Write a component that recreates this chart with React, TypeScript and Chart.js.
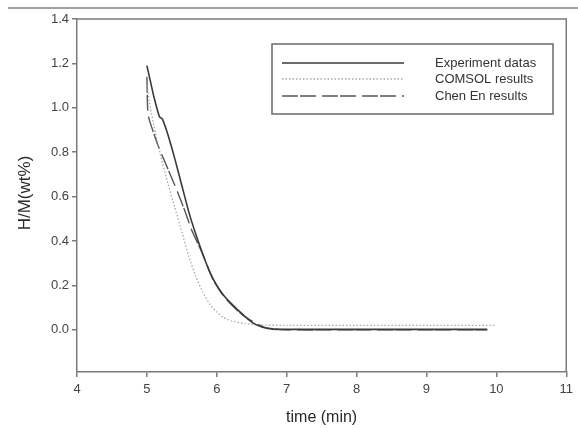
import React, { useEffect, useRef } from "react";
import { Chart, registerables } from "chart.js";

Chart.register(...registerables);

// ---- Data ----
const expTime = [5.0, 5.05, 5.1, 5.18, 5.22, 5.3, 5.4, 5.5, 5.6, 5.7, 5.8, 5.9, 6.0, 6.1, 6.2, 6.3, 6.4, 6.5, 6.6, 6.7, 6.8, 7.0, 8.0, 9.0, 9.87];
const expValue = [1.19, 1.12, 1.05, 0.96, 0.95, 0.88, 0.77, 0.65, 0.53, 0.43, 0.34, 0.26, 0.2, 0.155, 0.12, 0.09, 0.06, 0.035, 0.018, 0.008, 0.003, 0.002, 0.002, 0.002, 0.002];

const comsolTime = [5.0, 5.05, 5.1, 5.2, 5.3, 5.4, 5.5, 5.6, 5.7, 5.8, 5.9, 6.0, 6.1, 6.2, 6.4, 6.6, 7.0, 8.0, 9.0, 10.0];
const comsolValue = [1.1, 1.0, 0.92, 0.78, 0.66, 0.55, 0.44, 0.33, 0.24, 0.17, 0.115, 0.08, 0.055, 0.04, 0.028, 0.022, 0.02, 0.02, 0.02, 0.02];

const chenTime = [5.0, 5.01, 5.03, 5.16, 5.3, 5.44, 5.55, 5.64, 5.8, 5.94, 6.1, 6.3, 6.5, 6.7, 7.0, 8.0, 9.0, 9.87];
const chenValue = [1.14, 1.0, 0.95, 0.83, 0.725, 0.62, 0.53, 0.45, 0.34, 0.23, 0.15, 0.085, 0.04, 0.01, 0.0, 0.0, 0.0, 0.0];

const seriesNames = ["Experiment datas", "COMSOL results", "Chen En results"];
const yTickValues = [0, 0.2, 0.4, 0.6, 0.8, 1.0, 1.2, 1.4];
const xTitle = "time (min)";
const yTitle = "H/M(wt%)";

const FONT = "'Liberation Sans', Arial, sans-serif";
const AXIS_COLOR = "#7a7a7a";

const styles = [
  { color: "#3a3a3a", width: 1.6, dash: [] as number[] },
  { color: "#a8a8a8", width: 1.3, dash: [1.5, 2] },
  { color: "#555555", width: 1.4, dash: [16, 2, 16, 6] },
];

const zip = (t: number[], v: number[]) => t.map((x, i) => ({ x, y: v[i] }));

const framePlugin = {
  id: "frameAndLegend",
  afterDraw(chart: any) {
    const { ctx, chartArea, width } = chart;
    ctx.save();
    // page rule at the top
    ctx.strokeStyle = "#808080";
    ctx.lineWidth = 1.5;
    ctx.beginPath();
    ctx.moveTo(8, 8);
    ctx.lineTo(width, 8);
    ctx.stroke();

    // plot frame (top & right)
    ctx.strokeStyle = AXIS_COLOR;
    ctx.lineWidth = 1.5;
    ctx.beginPath();
    ctx.moveTo(chartArea.left, chartArea.top);
    ctx.lineTo(chartArea.right, chartArea.top);
    ctx.lineTo(chartArea.right, chartArea.bottom);
    ctx.stroke();

    // axis titles
    ctx.fillStyle = "#2a2a2a";
    ctx.font = `16px ${FONT}`;
    ctx.textAlign = "center";
    ctx.textBaseline = "middle";
    ctx.fillText(xTitle, (chartArea.left + chartArea.right) / 2, 418);
    ctx.save();
    ctx.translate(25, 193);
    ctx.rotate(-Math.PI / 2);
    ctx.font = `17px ${FONT}`;
    ctx.fillText(yTitle, 0, 0);
    ctx.restore();

    // legend box
    const bx = chartArea.left + 195;
    const by = chartArea.top + 25;
    const bw = 281;
    const bh = 70;
    ctx.strokeStyle = "#6a6a6a";
    ctx.lineWidth = 1.5;
    ctx.strokeRect(bx, by, bw, bh);
    const rows = [by + 19, by + 35, by + 52];
    seriesNames.forEach((name, i) => {
      const s = styles[i];
      ctx.strokeStyle = s.color;
      ctx.lineWidth = s.width;
      ctx.setLineDash(s.dash);
      ctx.beginPath();
      ctx.moveTo(bx + 10, rows[i]);
      ctx.lineTo(bx + 132, rows[i]);
      ctx.stroke();
      ctx.setLineDash([]);
      ctx.fillStyle = "#333";
      ctx.font = `13px ${FONT}`;
      ctx.textAlign = "left";
      ctx.textBaseline = "middle";
      ctx.fillText(name, bx + 163, rows[i]);
    });
    ctx.restore();
  },
};

export default function App() {
  const ref = useRef<HTMLCanvasElement>(null);
  useEffect(() => {
    if (!ref.current) return;
    const datasets = [
      zip(expTime, expValue),
      zip(comsolTime, comsolValue),
      zip(chenTime, chenValue),
    ].map((data, i) => ({
      label: seriesNames[i],
      data,
      borderColor: styles[i].color,
      borderWidth: styles[i].width,
      borderDash: styles[i].dash,
      pointRadius: 0,
      fill: false,
      tension: 0.15,
    }));
    const chart = new Chart(ref.current, {
      type: "line",
      data: { datasets },
      options: {
        animation: false,
        responsive: false,
        maintainAspectRatio: false,
        layout: { padding: { left: 0, right: 11, top: 19, bottom: 0 } },
        plugins: { legend: { display: false }, tooltip: { enabled: false } },
        scales: {
          x: {
            type: "linear",
            min: 4,
            max: 11,
            ticks: {
              stepSize: 1,
              color: "#444",
              font: { family: FONT, size: 13 },
              padding: 5,
              maxRotation: 0,
            },
            grid: { display: true, drawOnChartArea: false, drawTicks: true, tickLength: 5, color: AXIS_COLOR, lineWidth: 1.5 },
            border: { display: true, color: AXIS_COLOR, width: 1.5 },
            afterFit: (s: any) => {
              s.height = 56;
            },
          },
          y: {
            type: "linear",
            min: -0.19,
            max: 1.4,
            afterBuildTicks: (s: any) => {
              s.ticks = yTickValues.map((v) => ({ value: v }));
            },
            ticks: {
              color: "#444",
              font: { family: FONT, size: 13 },
              padding: 3,
              callback: (v: any) => Number(v).toFixed(1),
            },
            grid: { display: true, drawOnChartArea: false, drawTicks: true, tickLength: 5, color: AXIS_COLOR, lineWidth: 1.5 },
            border: { display: true, color: AXIS_COLOR, width: 1.5 },
            afterFit: (s: any) => {
              s.width = 77;
            },
          },
        },
      },
      plugins: [framePlugin],
    });
    return () => chart.destroy();
  }, []);
  return (
    <div style={{ position: "fixed", left: 0, top: 0, width: 578, height: 428, background: "#fff" }}>
      <canvas ref={ref} width={578} height={428} style={{ display: "block" }} />
    </div>
  );
}
